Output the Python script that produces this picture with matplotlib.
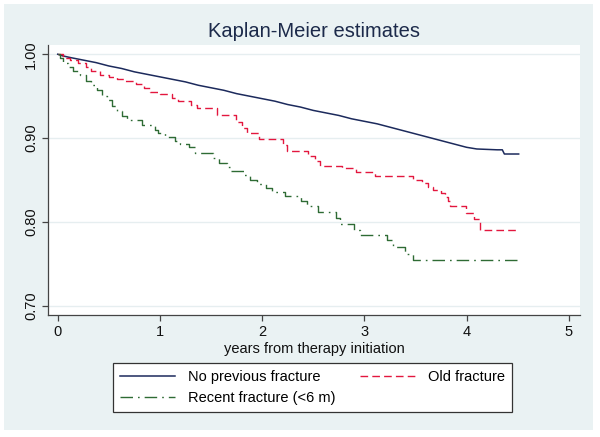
import matplotlib
matplotlib.use("Agg")
import matplotlib.pyplot as plt
from matplotlib.patches import Rectangle

plt.rcParams['font.family'] = ['Liberation Sans', 'DejaVu Sans']
plt.rcParams['lines.scale_dashes'] = False

title = "Kaplan-Meier estimates"
xlabel = "years from therapy initiation"
labels = ["No previous fracture", "Old fracture", "Recent fracture (<6 m)"]
x_ticks = [0, 1, 2, 3, 4, 5]
y_ticks = [0.70, 0.80, 0.90, 1.00]
t_end = 4.51

# Group 1: No previous fracture (many tiny steps -> read as a near-continuous curve)
t_none = [0, 0.05, 0.125, 0.25, 0.375, 0.5, 0.625, 0.75, 0.875, 1.0, 1.125, 1.25,
          1.375, 1.5, 1.625, 1.75, 1.875, 2.0, 2.125, 2.25, 2.375, 2.5, 2.625, 2.75,
          2.875, 3.0, 3.125, 3.25, 3.375, 3.5, 3.625, 3.75, 3.875, 4.0, 4.1, 4.3,
          4.35, 4.37, 4.51]
s_none = [1.000, 0.998, 0.996, 0.993, 0.990, 0.986, 0.983, 0.979, 0.976, 0.973, 0.970,
          0.967, 0.963, 0.960, 0.957, 0.953, 0.950, 0.947, 0.944, 0.940, 0.937, 0.933,
          0.930, 0.927, 0.923, 0.920, 0.917, 0.913, 0.909, 0.905, 0.901, 0.897, 0.893,
          0.889, 0.887, 0.886, 0.886, 0.881, 0.881]

# Group 2: Old fracture
t_old = [0.00, 0.05, 0.12, 0.20, 0.28, 0.33, 0.41, 0.50, 0.58, 0.66, 0.77, 0.84, 0.90,
         1.00, 1.12, 1.18, 1.30, 1.36, 1.56, 1.74, 1.80, 1.85, 1.97, 2.20, 2.24, 2.45,
         2.52, 2.57, 2.78, 2.92, 3.10, 3.48, 3.56, 3.62, 3.67, 3.75, 3.79, 3.82, 3.84,
         3.99, 4.07, 4.13]
s_old = [1.000, 0.996, 0.993, 0.989, 0.985, 0.980, 0.975, 0.973, 0.971, 0.968, 0.964,
         0.960, 0.955, 0.952, 0.948, 0.944, 0.940, 0.936, 0.928, 0.919, 0.912, 0.906,
         0.899, 0.892, 0.885, 0.879, 0.873, 0.867, 0.864, 0.859, 0.855, 0.850, 0.846,
         0.842, 0.838, 0.834, 0.830, 0.825, 0.819, 0.811, 0.804, 0.790]

# Group 3: Recent fracture (<6 m)
t_rec = [0.00, 0.02, 0.05, 0.10, 0.15, 0.22, 0.28, 0.33, 0.38, 0.43, 0.48, 0.53, 0.58,
         0.63, 0.68, 0.82, 0.95, 0.98, 1.05, 1.15, 1.20, 1.28, 1.34, 1.52, 1.58, 1.66,
         1.70, 1.82, 1.88, 1.95, 2.04, 2.10, 2.22, 2.38, 2.44, 2.55, 2.72, 2.76, 2.90,
         2.96, 3.22, 3.28, 3.40, 3.48]
s_rec = [1.000, 0.995, 0.990, 0.985, 0.980, 0.975, 0.968, 0.963, 0.957, 0.950, 0.945,
         0.938, 0.932, 0.926, 0.921, 0.915, 0.910, 0.906, 0.901, 0.897, 0.893, 0.889,
         0.882, 0.876, 0.870, 0.866, 0.861, 0.856, 0.850, 0.845, 0.840, 0.836, 0.831,
         0.825, 0.819, 0.812, 0.805, 0.797, 0.790, 0.784, 0.778, 0.770, 0.762, 0.754]

W, H = 600, 437
fig = plt.figure(figsize=(W / 100, H / 100), dpi=100, facecolor='white')
bg = '#eaf2f3'
fig.patches.append(Rectangle((4 / W, 1 - 430 / H), 589 / W, 426 / H,
                             transform=fig.transFigure, facecolor=bg,
                             edgecolor='none', zorder=-10))

ax = fig.add_axes([48 / W, 1 - 315 / H, 532 / W, 270 / H])
ax.set_facecolor('white')

c_none, c_old, c_rec = '#1c2a5c', '#e3173e', '#2e6b34'
lw = 1.0
l1, = ax.plot(t_none, s_none, color=c_none, lw=1.1, label=labels[0])
l2, = ax.plot(t_old + [t_end], s_old + [s_old[-1]], drawstyle='steps-post',
              color=c_old, lw=lw, linestyle=(0, (5.5, 3.0)), label=labels[1])
l3, = ax.plot(t_rec + [t_end], s_rec + [s_rec[-1]], drawstyle='steps-post',
              color=c_rec, lw=lw, linestyle=(0, (9.0, 3.6, 1.2, 3.6)), label=labels[2])

ax.set_xlim(-0.095, 5.11)
ax.set_ylim(0.689, 1.011)
ax.set_xticks(x_ticks)
ax.set_yticks(y_ticks)
ax.set_yticklabels([f"{v:.2f}" for v in y_ticks], rotation=90, va='center')
for v in y_ticks:
    ax.axhline(v, color='#e6eef0', lw=1.0, zorder=0)

for s in ['top', 'right']:
    ax.spines[s].set_visible(False)
for s in ['left', 'bottom']:
    ax.spines[s].set_color('#444444')
    ax.spines[s].set_linewidth(0.9)
ax.tick_params(axis='both', direction='out', length=4, width=0.9, color='#444444',
               labelsize=10.5, labelcolor='#111111', pad=3)

ax.set_xlabel(xlabel, fontsize=10.5, color='#111111', labelpad=2)
fig.text(314 / W, 1 - 31.5 / H, title, ha='center', va='center', fontsize=14.5,
         color='#1c2a4a')

# matplotlib fills legend columns first; order so row1 = none, old; row2 = recent
leg = fig.legend(handles=[l1, l3, l2], labels=[labels[0], labels[2], labels[1]], ncol=2,
                 loc='upper left', bbox_to_anchor=(112.7 / W, 1 - 363 / H),
                 bbox_transform=fig.transFigure, borderaxespad=0,
                 fontsize=10.5, frameon=True, fancybox=False, edgecolor='#333333',
                 facecolor='white', framealpha=1, handlelength=3.8,
                 handletextpad=0.85, columnspacing=1.7, labelspacing=0.45,
                 borderpad=0.5)
leg.get_frame().set_linewidth(0.9)

fig.savefig('out.png', dpi=100, facecolor='white')
